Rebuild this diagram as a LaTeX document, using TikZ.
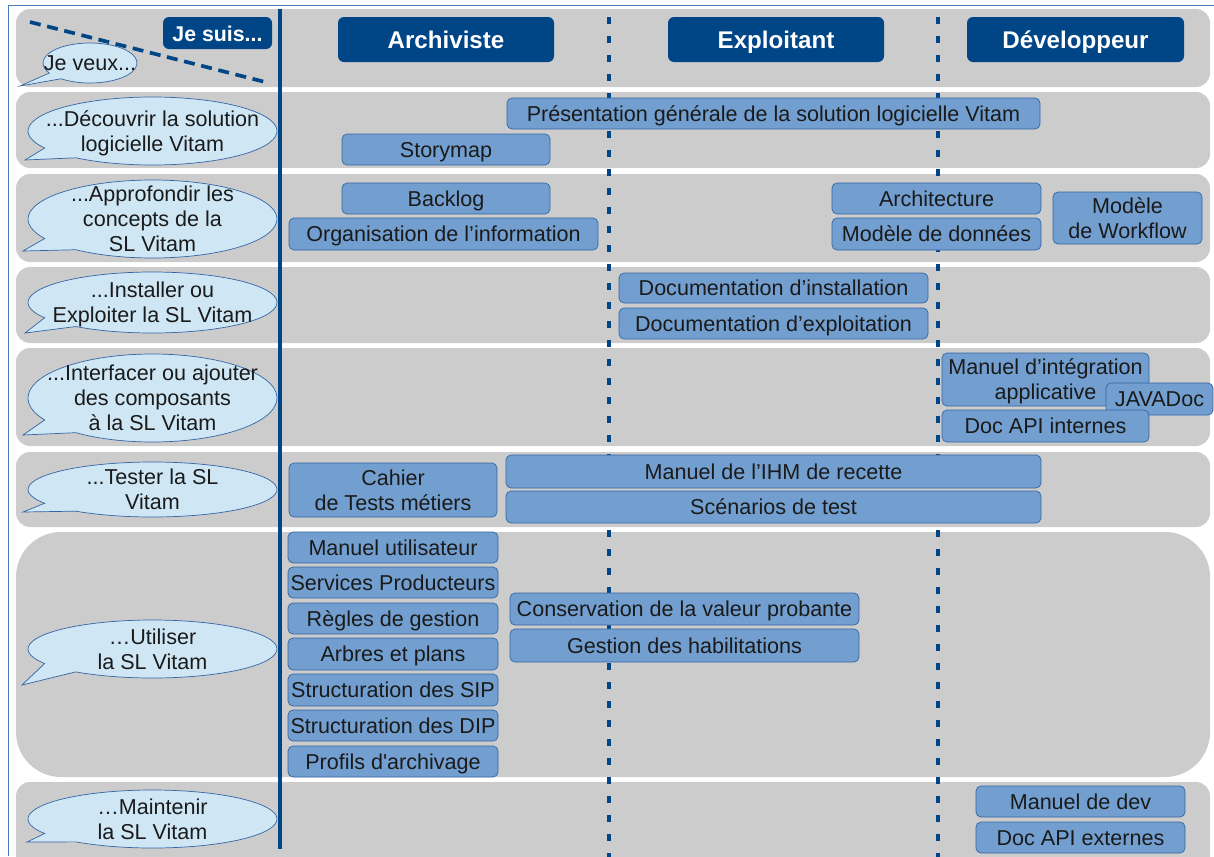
\documentclass[tikz,border=0pt]{standalone}
\usepackage{fontspec}
\newfontfamily\lsans{Liberation Sans}
\definecolor{band}{HTML}{CCCCCC}
\definecolor{navy}{HTML}{004586}
\definecolor{boxfill}{HTML}{729FCF}
\definecolor{boxline}{HTML}{3465A4}
\definecolor{bubfill}{HTML}{CFE7F5}
\definecolor{txt}{HTML}{1A1A1A}
\definecolor{frame}{HTML}{4A7EBB}
\newcommand\mystrut{\rule[-0.2em]{0pt}{1.12em}}
\newcommand\docbox[6]{\node[doc, minimum width={(#4-#2)*0.03cm}, minimum height={(#5-#3)*0.03cm}] (#1) at ({(#2+#4)/2},{(#3+#5)/2}) {\mystrut #6\mystrut};}
\newcommand\headbox[6]{\node[head, minimum width={(#4-#2)*0.03cm}, minimum height={(#5-#3)*0.03cm}] (#1) at ({(#2+#4)/2},{(#3+#5)/2}) {\mystrut #6};}
\newcommand\bubble[8]{%
  \draw[bub] (#2,#3) ++(150:#4 and #5) arc[start angle=150, end angle=488, x radius=#4, y radius=#5] -- (#6,#7) -- cycle;
  \node[bubtext] (#1) at (#2,#3) {\mystrut #8\mystrut};}
\begin{document}
\begin{tikzpicture}[x=0.03cm,y=-0.03cm,
  doc/.style={draw=boxline, line width=0.6pt, fill=boxfill, rounded corners=0.15cm, text=txt,
    font=\lsans\fontsize{18.4}{21.3}\selectfont, align=center, inner sep=0pt},
  head/.style={fill=navy, rounded corners=0.18cm, text=white, inner sep=0pt,
    font=\lsans\bfseries\fontsize{20.6}{24}\selectfont},
  bub/.style={draw=boxline, line width=0.6pt, fill=bubfill},
  bubtext/.style={text=txt, font=\lsans\fontsize{18.4}{21.3}\selectfont, align=center, inner sep=0pt},
  bandf/.style={fill=band, rounded corners=0.42cm},
  vline/.style={draw=navy, line width=0.12cm},
  dline/.style={draw=navy, line width=0.11cm, dash pattern=on 0.21cm off 0.36cm}]
\useasboundingbox (0,0) rectangle (1214,856);
\clip (0,0) rectangle (1214,856);
% bands
\fill[bandf] (16,9) rectangle (1210,87);
\fill[bandf] (16,92) rectangle (1210,168);
\fill[bandf] (16,174) rectangle (1210,262);
\fill[bandf] (16,267) rectangle (1210,343);
\fill[bandf] (16,348) rectangle (1210,446);
\fill[bandf] (16,452) rectangle (1210,527);
\fill[bandf, rounded corners=1.35cm] (16,532) rectangle (1210,777);
\fill[bandf] (16,782) rectangle (1210,900);
% frame
\coordinate (f0) at (8,5); \coordinate (f1) at (1214,5); \coordinate (f2) at (8,856);
\draw[frame, line width=0.7pt] (f1) -- (f0) -- (f2);
% separators
\coordinate (s0) at (280,9); \coordinate (s1) at (280,849);
\coordinate (d0) at (609,17); \coordinate (d1) at (609,860);
\coordinate (e0) at (938,17); \coordinate (e1) at (938,860);
\draw[vline] (s0) -- (s1);
\draw[dline] (d0) -- (d1);
\draw[dline] (e0) -- (e1);
% headers
\headbox{jesuis}{163}{17}{272}{49}{\fontsize{18.2}{21}\selectfont Je suis...}
\headbox{arch}{338}{17}{554}{62}{Archiviste}
\headbox{expl}{668}{17}{884}{62}{Exploitant}
\headbox{dev}{967}{17}{1184}{62}{Développeur}
% bubbles
\bubble{jeveux}{90}{63}{47}{20}{20}{86}{Je veux...}
\coordinate (g0) at (30,22); \coordinate (g1) at (269,83);
\draw[draw=navy, line width=0.11cm, dash pattern=on 0.33cm off 0.2cm] (g0) -- (g1);
\bubble{q1}{152.5}{131}{124.5}{34}{25}{160}{...Découvrir la solution\\logicielle Vitam}
\bubble{q2}{152.5}{219}{124.5}{39}{23}{251}{...Approfondir les\\concepts de la\\SL Vitam}
\bubble{q3}{152.5}{302.5}{124.5}{30.5}{25}{333}{...Installer ou\\Exploiter la SL Vitam}
\bubble{q4}{152.5}{398}{124.5}{44}{23}{435}{...Interfacer ou ajouter\\des composants\\à la SL Vitam}
\bubble{q5}{152.5}{489.5}{124.5}{27.5}{23}{512}{...Tester la SL\\Vitam}
\bubble{q6}{152.5}{649}{124.5}{29}{22}{685}{…Utiliser\\la SL Vitam}
\bubble{q7}{152.5}{819}{124.5}{29}{27}{842}{…Maintenir\\la SL Vitam}
% documents
\docbox{pres}{507}{98}{1040}{129}{Présentation générale de la solution logicielle Vitam}
\docbox{story}{342}{134}{550}{165}{Storymap}
\docbox{backlog}{342}{183}{550}{214}{Backlog}
\docbox{orga}{289}{218}{598}{250}{Organisation de l’information}
\docbox{archi}{832}{183}{1041}{214}{Architecture}
\docbox{modd}{832}{218}{1041}{250}{Modèle de données}
\docbox{modw}{1053}{192}{1202}{244}{Modèle\\de Workflow}
\docbox{inst}{619}{273}{928}{303}{Documentation d’installation}
\docbox{expdoc}{619}{308}{928}{339}{Documentation d’exploitation}
\docbox{integ}{942}{353}{1149}{406}{Manuel d’intégration\\applicative}
\docbox{java}{1106}{383}{1213}{415}{JAVADoc}
\docbox{apiint}{942}{410}{1149}{442}{Doc API internes}
\docbox{cahier}{289}{463}{497}{517}{Cahier\\de Tests métiers}
\docbox{ihm}{506}{455}{1041}{488}{Manuel de l’IHM de recette}
\docbox{scen}{506}{491}{1041}{523}{Scénarios de test}
\docbox{mu}{288}{532}{498}{563}{Manuel utilisateur}
\docbox{sp}{288}{567}{498}{598}{Services Producteurs}
\docbox{rg}{288}{603}{498}{634}{Règles de gestion}
\docbox{ap}{288}{638}{498}{670}{Arbres et plans}
\docbox{sip}{288}{674}{498}{706}{Structuration des SIP}
\docbox{dip}{288}{710}{498}{741}{Structuration des DIP}
\docbox{prof}{288}{746}{498}{777}{Profils d'archivage}
\docbox{cons}{510}{593}{859}{625}{Conservation de la valeur probante}
\docbox{hab}{510}{629}{859}{662}{Gestion des habilitations}
\docbox{mdev}{976}{786}{1185}{817}{Manuel de dev}
\docbox{apiext}{976}{822}{1185}{853}{Doc API externes}
\end{tikzpicture}
\end{document}
